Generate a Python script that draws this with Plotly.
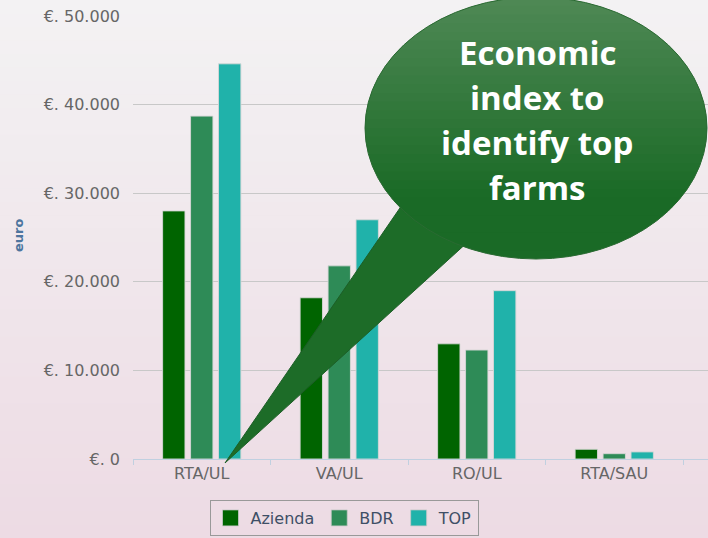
import numpy as np
import plotly.graph_objects as go

categories = ["RTA/UL", "VA/UL", "RO/UL", "RTA/SAU"]
azienda = [28000, 18200, 13000, 1100]
bdr = [38700, 21800, 12300, 600]
top = [44600, 27000, 19000, 800]
series_names = ["Azienda", "BDR", "TOP"]
tick_vals = [0, 10000, 20000, 30000, 40000, 50000]
tick_text = ["€. 0", "€. 10.000", "€. 20.000", "€. 30.000", "€. 40.000", "€. 50.000"]
callout_lines = ["Economic", "index to", "identify top", "farms"]

W, H = 708, 538
L, R, T, B = 133, 0, 16, 79
PW, PH = W - L - R, H - T - B


def px(x):
    return (x - L) / PW


def py(y):
    return (H - B - y) / PH


def mix(c1, c2, t):
    return "rgb(%d,%d,%d)" % tuple(int(round(a + (b - a) * t)) for a, b in zip(c1, c2))


fig = go.Figure()
colors = ["#006400", "#2E8B57", "#20B2AA"]
for name, vals, c in zip(series_names, [azienda, bdr, top], colors):
    fig.add_trace(go.Bar(x=categories, y=vals, name=name, marker_color=c, showlegend=False,
                         marker_line_color="rgba(215,215,215,0.9)", marker_line_width=1))
for name, c in zip(series_names, colors):
    fig.add_trace(go.Scatter(x=[None], y=[None], mode="markers", name=name,
                             marker=dict(symbol="square", size=18, color=c,
                                         line=dict(color="rgba(200,200,200,0.8)", width=1))))

shapes = []
# background gradient
bg_top, bg_bot = (243, 242, 243), (237, 219, 228)
n = 40
for i in range(n):
    y0 = H * i / n
    y1 = H * (i + 1) / n
    shapes.append(dict(type="rect", xref="paper", yref="paper", x0=px(0), x1=px(W),
                       y0=py(y1 + 0.5), y1=py(y0), fillcolor=mix(bg_top, bg_bot, i / (n - 1)),
                       line_width=0, layer="below"))

# callout bubble
cx, cy, rx, ry = 536, 128, 171, 131
g_top, g_bot = (78, 136, 84), (26, 106, 38)
tail_col = mix(g_top, g_bot, 0.95)
shapes.append(dict(type="path", xref="paper", yref="paper",
                   path="M %f %f L %f %f L %f %f Z" % (px(402), py(205), px(225), py(463), px(470), py(240)),
                   fillcolor=tail_col, line=dict(color="#1d5e27", width=1), layer="above"))
ns = 30
for i in range(ns):
    ya = cy - ry + 2 * ry * i / ns
    yb = cy - ry + 2 * ry * (i + 1) / ns + 0.8
    yb = min(yb, cy + ry)
    ys = np.linspace(ya, yb, 8)
    xs_r = cx + rx * np.sqrt(np.clip(1 - ((ys - cy) / ry) ** 2, 0, 1))
    xs_l = cx - rx * np.sqrt(np.clip(1 - ((ys - cy) / ry) ** 2, 0, 1))
    pts = list(zip(xs_r, ys)) + list(zip(xs_l[::-1], ys[::-1]))
    path = "M " + " L ".join("%f %f" % (px(x), py(y)) for x, y in pts) + " Z"
    shapes.append(dict(type="path", xref="paper", yref="paper", path=path,
                       fillcolor=mix(g_top, g_bot, min(1, i / (ns * 0.75))), line_width=0, layer="above"))
shapes.append(dict(type="circle", xref="paper", yref="paper", x0=px(cx - rx), x1=px(cx + rx),
                   y0=py(cy + ry), y1=py(cy - ry), line=dict(color="#2a6a32", width=1), layer="above"))

annotations = [
    dict(text="<b>euro</b>", xref="paper", yref="paper", x=px(18), y=py(236), textangle=-90,
         xanchor="center", yanchor="middle",
         showarrow=False, font=dict(family="DejaVu Sans", size=13, color="#4d759e")),
]
for k, line in enumerate(callout_lines):
    annotations.append(dict(text="<b>" + line + "</b>", xref="paper", yref="paper",
                            x=px(537), y=py(52 + 45 * k), xanchor="center", yanchor="middle",
                            showarrow=False,
                            font=dict(family="Open Sans", size=33, color="white")))

fig.update_layout(
    width=W, height=H,
    margin=dict(l=L, r=R, t=T, b=B, autoexpand=False),
    paper_bgcolor="#efe6eb", plot_bgcolor="rgba(0,0,0,0)",
    barmode="group", bargap=0.39, bargroupgap=0.2,
    font=dict(family="DejaVu Sans", color="#666666"),
    shapes=shapes, annotations=annotations,
    showlegend=True,
    legend=dict(orientation="h", x=px(344), xanchor="center", y=py(500), yanchor="top",
                bordercolor="#999999", borderwidth=1, bgcolor="rgba(0,0,0,0)",
                font=dict(family="DejaVu Sans", size=16, color="#3e4f66"),
                itemsizing="trace", traceorder="normal"),
)
fig.update_xaxes(range=[-0.5, -0.5 + PW / 137.5], showline=True, linecolor="#c0d0e0", linewidth=1,
                 tickson="boundaries", ticks="outside", ticklen=5, tickcolor="#c0d0e0",
                 showgrid=False, tickfont=dict(family="DejaVu Sans", size=16, color="#666666"),
                 fixedrange=True)
fig.update_yaxes(range=[0, 50000], tickvals=tick_vals, ticktext=tick_text, showgrid=True,
                 gridcolor="#c8c8c8", gridwidth=1, zeroline=False, showline=False,
                 ticks="", ticklabelstandoff=12,
                 tickfont=dict(family="DejaVu Sans", size=16, color="#666666"), fixedrange=True)

fig.write_html("out.html", config={"displayModeBar": False},
               post_script="document.body.style.margin='0';document.body.style.overflow='hidden';")
